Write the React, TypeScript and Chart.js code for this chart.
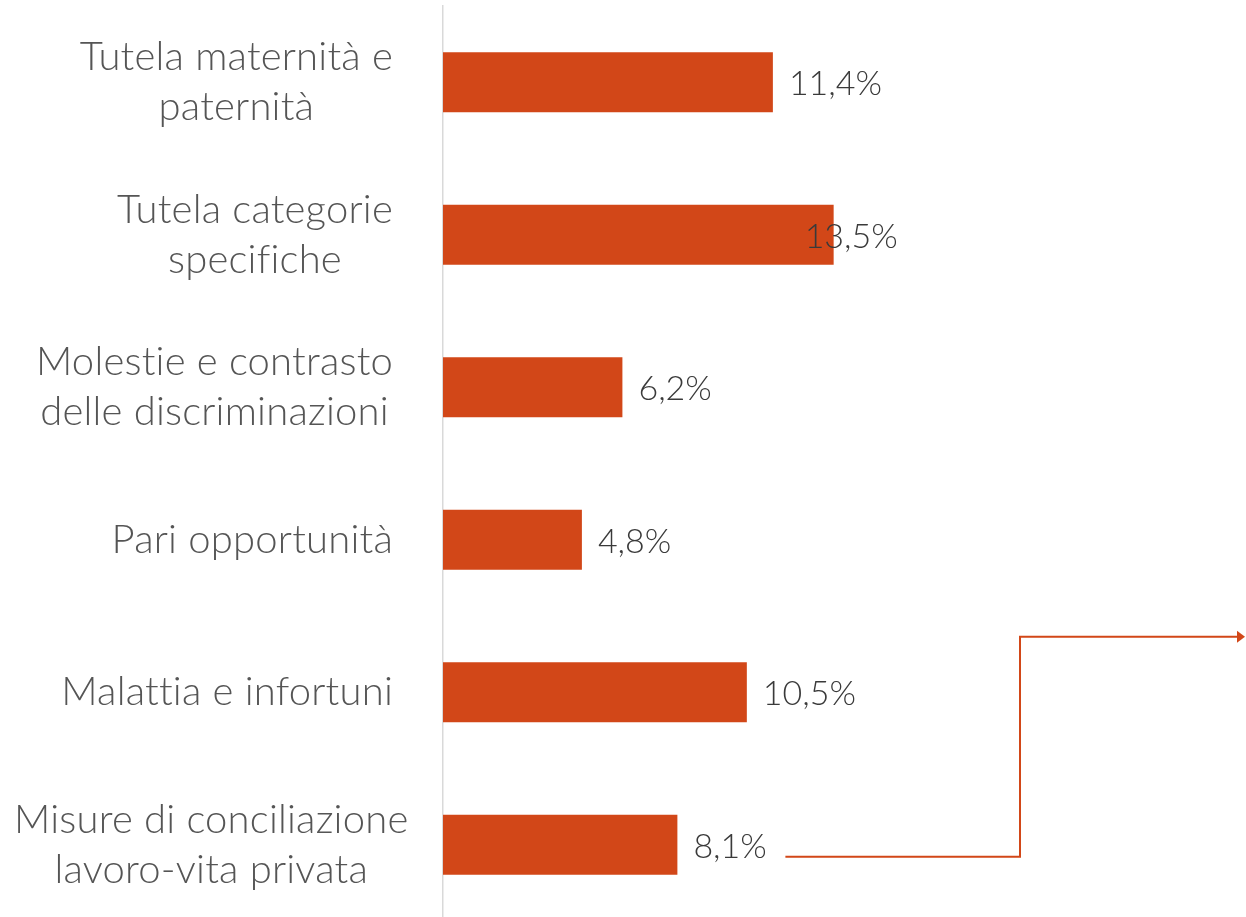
import React, { useEffect, useRef } from "react";
import { Chart, registerables } from "chart.js";

Chart.register(...registerables);

const categories: string[][] = [
  ["Tutela maternità e", "paternità"],
  ["Tutela categorie", "specifiche"],
  ["Molestie e contrasto", "delle discriminazioni"],
  ["Pari opportunità"],
  ["Malattia e infortuni"],
  ["Misure di conciliazione", "lavoro-vita privata"],
];
const values: number[] = [11.4, 13.5, 6.2, 4.8, 10.5, 8.1];
const labelShift: number[] = [0, -45, 0, 0, 0, 0];

const BAR_COLOR = "#D24718";
const FONT = "Lato";

const categoryLabelPlugin = {
  id: "categoryLabels",
  afterDraw(chart: any) {
    const ctx = chart.ctx;
    const yScale = chart.scales.y;
    const right = chart.chartArea.left - 50;
    const minLeft = 14;
    const lineH = 50;
    ctx.save();
    ctx.font = `300 40px ${FONT}`;
    // a non-zero letter spacing switches off Lato's tt / st / fi ligatures
    ctx.letterSpacing = "0.2px";
    ctx.fillStyle = "#555555";
    ctx.textAlign = "center";
    ctx.textBaseline = "middle";
    categories.forEach((lines, i) => {
      const yc = yScale.getPixelForTick(i);
      const w = Math.max(...lines.map((l) => ctx.measureText(l).width));
      const left = Math.max(minLeft, right - w);
      const cx = left + w / 2;
      lines.forEach((l, j) => {
        ctx.fillText(l, cx, yc + (j - (lines.length - 1) / 2) * lineH);
      });
    });
    ctx.restore();
  },
};

const valueLabelPlugin = {
  id: "valueLabels",
  afterDatasetsDraw(chart: any) {
    const ctx = chart.ctx;
    const meta = chart.getDatasetMeta(0);
    ctx.save();
    ctx.font = `300 34px ${FONT}`;
    ctx.fillStyle = "#3a3a3a";
    ctx.textAlign = "left";
    ctx.textBaseline = "middle";
    meta.data.forEach((bar: any, i: number) => {
      const txt = values[i].toFixed(1).replace(".", ",") + "%";
      ctx.fillText(txt, bar.x + 16 + labelShift[i], bar.y + 2);
    });
    // connector arrow from the last bar label
    const last = meta.data[meta.data.length - 1];
    const ca = chart.chartArea;
    const y0 = last.y + 12;
    const x0 = last.x + 108;
    const xe = ca.left + 577;
    const y1 = last.y - 208;
    const x1 = ca.right - 7;
    ctx.strokeStyle = BAR_COLOR;
    ctx.fillStyle = BAR_COLOR;
    ctx.lineWidth = 2;
    ctx.beginPath();
    ctx.moveTo(x0, y0);
    ctx.lineTo(xe, y0);
    ctx.lineTo(xe, y1);
    ctx.lineTo(x1, y1);
    ctx.stroke();
    ctx.beginPath();
    ctx.moveTo(x1 + 6, y1);
    ctx.lineTo(x1 - 2, y1 - 6);
    ctx.lineTo(x1 - 2, y1 + 6);
    ctx.closePath();
    ctx.fill();
    ctx.restore();
  },
};

export default function App() {
  const ref = useRef<HTMLCanvasElement | null>(null);
  useEffect(() => {
    document.body.style.margin = "0";
    document.body.style.overflow = "hidden";
    if (!ref.current) return;
    const chart = new Chart(ref.current, {
      type: "bar",
      data: {
        labels: categories.map((c) => c.join(" ")),
        datasets: [
          {
            data: values,
            backgroundColor: BAR_COLOR,
            barPercentage: 0.393,
            categoryPercentage: 1,
          },
        ],
      },
      options: {
        indexAxis: "y",
        animation: false,
        responsive: false,
        maintainAspectRatio: false,
        layout: { padding: { top: 6, bottom: 4, left: 0, right: 0 } },
        plugins: { legend: { display: false }, tooltip: { enabled: false } },
        scales: {
          x: { display: false, min: 0, max: 27.75 },
          y: {
            grid: { display: false, drawTicks: false },
            ticks: { display: false },
            border: { display: true, color: "#D9D9D9", width: 1.5 },
            afterFit(scale: any) {
              scale.width = 443;
            },
          },
        },
      },
      plugins: [categoryLabelPlugin, valueLabelPlugin],
    });
    return () => chart.destroy();
  }, []);
  return (
    <div style={{ position: "fixed", left: 0, top: 0, width: 1246, height: 917, overflow: "hidden", background: "#fff" }}>
      <canvas ref={ref} width={1246} height={925} style={{ width: 1246, height: 925, display: "block" }} />
    </div>
  );
}
